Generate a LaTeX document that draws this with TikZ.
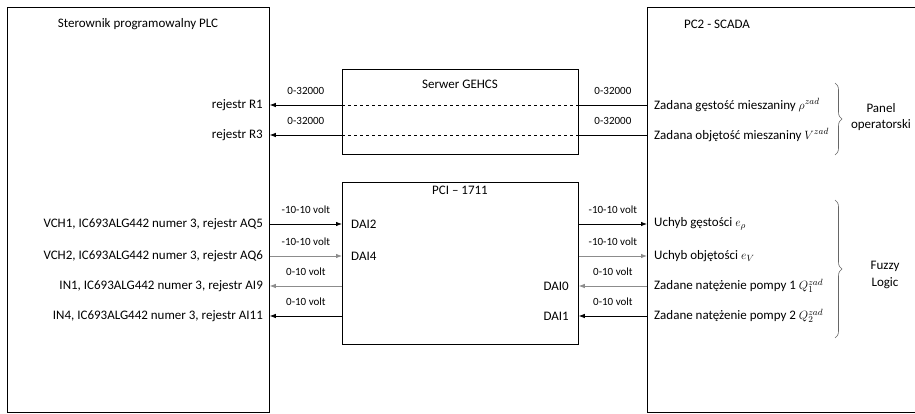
\documentclass[tikz,border=0pt]{standalone}
\usepackage{fontspec}
\setmainfont{Carlito}
\usetikzlibrary{arrows.meta,decorations.pathreplacing}
\begin{document}
\begin{tikzpicture}[x=1pt,y=-1pt,
  box/.style={draw, line width=0.8pt, anchor=north west, inner sep=0pt},
  main/.style={font=\fontsize{13}{16.5}\selectfont, inner sep=1pt},
  small/.style={font=\fontsize{11}{13}\selectfont, inner sep=1pt, midway, yshift=14.5pt},
  arr/.style={line width=0.8pt, -{Latex[length=6pt,width=4.5pt]}},
  conn/.style={line width=0.8pt},
  lgray/.style={draw=black!45},
  brc/.style={draw=black!60, line width=0.6pt, decorate, decoration={brace, amplitude=7pt}}]
\useasboundingbox (0,0) rectangle (915,413);
% boxes
\node[box, minimum width=262pt, minimum height=405pt] (plc) at (7,7) {};
\node[box, minimum width=236pt, minimum height=85pt] (srv) at (342,69) {};
\node[box, minimum width=236pt, minimum height=162pt] (pci) at (342,182) {};
\node[box, minimum width=290pt, minimum height=405pt] (pc2) at (647,7) {};
% titles
\node[main] (tplc) at (138,24) {Sterownik programowalny PLC};
\node[main] (tsrv) at (460,84) {Serwer GEHCS};
\node[main] (tpci) at (460,190) {PCI – 1711};
\node[main] (tpc2) at (717,24) {PC2 - SCADA};
% left texts
\node[main, anchor=east] (r1) at (264,105) {rejestr R1};
\node[main, anchor=east] (r3) at (264,135) {rejestr R3};
\node[main, anchor=east] (l1) at (264,224) {VCH1, IC693ALG442 numer 3, rejestr AQ5};
\node[main, anchor=east] (l2) at (264,256) {VCH2, IC693ALG442 numer 3, rejestr AQ6};
\node[main, anchor=east] (l3) at (264,286) {IN1, IC693ALG442 numer 3, rejestr AI9};
\node[main, anchor=east] (l4) at (264,316) {IN4, IC693ALG442 numer 3, rejestr AI11};
% PCI texts
\node[main, anchor=west] (d2) at (350,224) {DAI2};
\node[main, anchor=west] (d4) at (350,256) {DAI4};
\node[main, anchor=east] (d0) at (570,286) {DAI0};
\node[main, anchor=east] (d1) at (570,316) {DAI1};
% right texts
\node[main, anchor=west] (z1) at (653,105) {Zadana gęstość mieszaniny $\rho^{zad}$};
\node[main, anchor=west] (z2) at (653,135) {Zadana objętość mieszaniny $V^{zad}$};
\node[main, anchor=west] (u1) at (653,224) {Uchyb gęstości $e_\rho$};
\node[main, anchor=west] (u2) at (653,256) {Uchyb objętości $e_V$};
\node[main, anchor=west] (q1) at (653,286) {Zadane natężenie pompy 1 $Q_1^{zad}$};
\node[main, anchor=west] (q2) at (653,316) {Zadane natężenie pompy 2 $Q_2^{zad}$};
% server connectors
\draw[arr] (srv.west |- r1) -- (plc.east |- r1) node[small] {0-32000};
\draw[conn, dashed, line width=0.5pt] (srv.west |- r1) -- (srv.east |- r1);
\draw[conn] (pc2.west |- r1) -- (srv.east |- r1) node[small] {0-32000};
\draw[arr] (srv.west |- r3) -- (plc.east |- r3) node[small] {0-32000};
\draw[conn, dashed, line width=0.5pt] (srv.west |- r3) -- (srv.east |- r3);
\draw[conn] (pc2.west |- r3) -- (srv.east |- r3) node[small] {0-32000};
% PCI left connectors
\draw[arr] (plc.east |- l1) -- (pci.west |- l1) node[small] {-10-10 volt};
\draw[arr, lgray] (plc.east |- l2) -- (pci.west |- l2) node[small, text=black] {-10-10 volt};
\draw[arr, lgray] (pci.west |- l3) -- (plc.east |- l3) node[small, text=black] {0-10 volt};
\draw[arr] (pci.west |- l4) -- (plc.east |- l4) node[small] {0-10 volt};
% PCI right connectors
\draw[arr] (pci.east |- u1) -- (pc2.west |- u1) node[small] {-10-10 volt};
\draw[arr, lgray] (pci.east |- u2) -- (pc2.west |- u2) node[small, text=black] {-10-10 volt};
\draw[arr, lgray] (pc2.west |- q1) -- (pci.east |- q1) node[small, text=black] {0-10 volt};
\draw[arr] (pc2.west |- q2) -- (pci.east |- q2) node[small] {0-10 volt};
% braces
\coordinate (b1t) at (835,83);
\coordinate (b1b) at (835,155);
\coordinate (b2t) at (835,200);
\coordinate (b2b) at (835,338);
\draw[brc] (b1t) -- (b1b);
\draw[brc] (b2t) -- (b2b);
\node[main, align=center] (panel) at (881,117) {Panel\\operatorski};
\node[main, align=center] (fuzzy) at (885,275) {Fuzzy\\Logic};
\end{tikzpicture}
\end{document}
